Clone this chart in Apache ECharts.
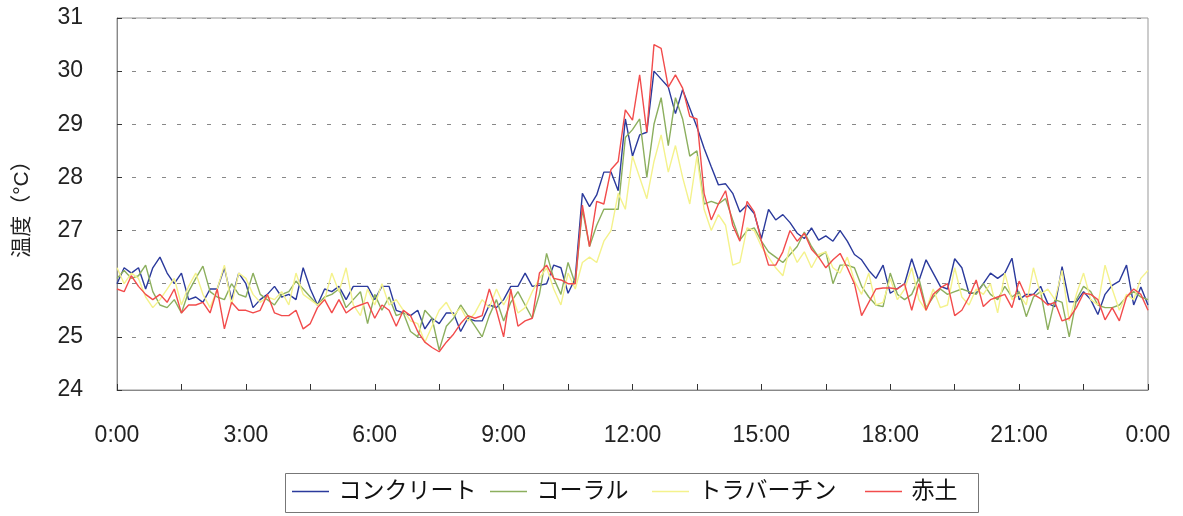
<!DOCTYPE html>
<html>
<head>
<meta charset="utf-8">
<script src="https://cdn.jsdelivr.net/npm/echarts@6/dist/echarts.min.js"></script>
<style>
  html, body { margin: 0; padding: 0; background: #fff; }
  #chart { width: 1183px; height: 516px; }
</style>
</head>
<body>
<div id="chart"></div>
<script>
// 10-minute readings over one day, 0:00 through the following 0:00 (145 samples)
const seriesNames = ['コンクリート', 'コーラル', 'トラバーチン', '赤土'];

const concrete = [
  26.0, 26.3, 26.2, 26.3, 25.9, 26.3, 26.5, 26.2, 26.0, 26.2,
  25.7, 25.75, 25.65, 25.9, 25.9, 26.3, 25.7, 26.2, 26.0, 25.55,
  25.7, 25.8, 25.95, 25.75, 25.8, 25.7, 26.3, 25.9, 25.6, 25.9,
  25.85, 25.95, 25.7, 25.95, 25.95, 25.95, 25.7, 25.95, 25.95, 25.5,
  25.45, 25.4, 25.5, 25.15, 25.35, 25.25, 25.45, 25.45, 25.1, 25.35,
  25.3, 25.3, 25.6, 25.55, 25.7, 25.95, 25.95, 26.2, 25.95, 25.97,
  26.0, 26.35, 26.3, 25.82, 26.1, 27.7, 27.45, 27.67, 28.1, 28.1,
  27.75, 29.1, 28.4, 28.8, 28.85, 30.0, 29.85, 29.7, 29.2, 29.65,
  29.3, 28.95, 28.55, 28.2, 27.86, 27.88, 27.7, 27.35, 27.48, 27.32,
  26.85, 27.4, 27.2, 27.3, 27.15, 26.95, 26.85, 27.05, 26.82, 26.9,
  26.8, 27.0, 26.8, 26.55, 26.45, 26.25, 26.1, 26.35, 25.82, 25.91,
  26.0, 26.47, 26.05, 26.45, 26.2, 25.95, 25.9, 26.47, 26.3, 25.82,
  25.82, 26.0, 26.2, 26.1, 26.2, 26.48, 25.7, 25.8, 25.8, 25.95,
  25.63, 25.57, 26.32, 25.66, 25.66, 25.85, 25.7, 25.42, 25.8, 25.97,
  26.05, 26.35, 25.6, 25.94, 25.6
];

const coral = [
  26.1, 26.25, 26.1, 26.15, 26.35, 25.85, 25.6, 25.55, 25.7, 25.45,
  25.85, 26.1, 26.33, 25.85, 25.75, 25.7, 26.0, 25.8, 25.75, 26.2,
  25.8, 25.7, 25.6, 25.8, 25.85, 26.05, 25.9, 25.75, 25.6, 25.75,
  25.8, 25.9, 25.55, 25.7, 25.85, 25.25, 25.8, 25.5, 25.75, 25.4,
  25.45, 25.1, 25.0, 25.5, 25.35, 24.75, 25.2, 25.35, 25.6, 25.4,
  25.2, 25.0, 25.4, 25.7, 25.3, 25.65, 25.85, 25.6, 25.35, 25.8,
  26.57, 26.1, 25.8, 26.4, 26.0, 27.4, 26.7, 27.1, 27.4, 27.4,
  27.4, 28.75, 28.9, 29.1, 28.0, 29.0, 29.5, 28.6, 29.5, 29.1,
  28.4, 28.5, 27.5, 27.55, 27.5, 27.6, 27.2, 26.82, 27.0, 27.05,
  26.8, 26.6, 26.5, 26.4, 26.55, 26.7, 26.97, 26.7, 26.5, 26.6,
  26.0, 26.35, 26.35, 26.3, 25.95, 25.75, 25.6, 25.57, 26.2, 25.8,
  25.7, 25.8, 26.1, 25.55, 25.75, 25.9, 25.8, 25.85, 25.9, 25.85,
  25.8, 26.0, 25.8, 25.7, 25.95, 25.75, 25.85, 25.38, 25.75, 25.85,
  25.13, 25.7, 25.65, 25.0, 25.7, 25.95, 25.85, 25.6, 25.55, 25.55,
  25.6, 25.75, 25.85, 25.75, 25.7
];

const travertine = [
  26.3, 26.0, 26.2, 26.1, 25.75, 25.55, 25.7, 25.9, 26.1, 25.6,
  25.95, 26.2, 25.8, 25.55, 25.9, 26.35, 25.6, 26.2, 26.1, 25.8,
  25.65, 25.75, 25.7, 25.85, 25.6, 26.2, 25.8, 25.7, 25.6, 25.7,
  26.2, 25.85, 26.3, 25.6, 25.4, 25.9, 25.6, 26.0, 25.6, 25.7,
  25.5, 25.3, 25.25, 24.9, 25.2, 25.5, 25.65, 25.4, 25.55, 25.3,
  25.45, 25.7, 25.55, 25.9, 25.6, 25.85, 25.45, 25.55, 25.85, 26.1,
  26.3, 25.9, 25.6, 26.2, 25.9, 26.4, 26.5, 26.4, 26.8, 27.0,
  27.7, 27.4, 28.4, 28.0, 27.6, 28.3, 28.8, 28.1, 28.6, 28.0,
  27.5, 28.4, 27.4, 27.0, 27.3, 27.1, 26.35, 26.4, 27.05, 27.0,
  26.7, 26.5, 26.3, 26.15, 26.7, 26.4, 26.6, 26.3, 26.55, 26.6,
  26.3, 26.2, 26.5, 26.05, 25.8, 26.2, 25.6, 25.65, 26.1, 25.7,
  25.9, 26.3, 25.7, 25.5, 25.9, 25.55, 25.6, 26.3, 25.75, 25.6,
  25.9, 25.8, 26.0, 25.45, 26.2, 25.7, 25.8, 25.6, 26.3, 25.8,
  25.9, 25.7, 26.25, 25.3, 25.8, 26.2, 25.7, 25.6, 26.35, 25.9,
  25.5, 25.8, 25.7, 26.1, 26.25
];

const redSoil = [
  25.9, 25.85, 26.15, 25.95, 25.8, 25.7, 25.8, 25.65, 25.9, 25.45,
  25.6, 25.6, 25.65, 25.45, 25.9, 25.15, 25.65, 25.5, 25.5, 25.45,
  25.5, 25.8, 25.45, 25.4, 25.4, 25.5, 25.15, 25.25, 25.55, 25.7,
  25.45, 25.7, 25.45, 25.55, 25.6, 25.65, 25.35, 25.6, 25.5, 25.2,
  25.5, 25.4, 25.1, 24.9, 24.8, 24.72, 24.9, 25.05, 25.25, 25.4,
  25.35, 25.4, 25.9, 25.5, 25.0, 25.9, 25.2, 25.3, 25.35, 26.2,
  26.35, 26.1, 26.07, 26.0, 26.0, 27.48, 26.7, 27.55, 27.5, 28.15,
  28.3, 29.27, 29.08, 29.93, 28.85, 30.5, 30.43, 29.7, 29.93, 29.68,
  29.15, 29.1, 27.7, 27.2, 27.5, 27.75, 27.1, 26.8, 27.55, 27.35,
  26.8, 26.35, 26.35, 26.6, 27.0, 26.8, 26.95, 26.65, 26.5, 26.3,
  26.45, 26.57, 26.3, 26.0, 25.4, 25.65, 25.9, 25.92, 25.92, 25.9,
  26.0, 25.5, 26.0, 25.5, 25.8, 25.92, 26.0, 25.4, 25.5, 25.75,
  26.07, 25.57, 25.7, 25.75, 25.8, 25.55, 26.05, 25.75, 25.8, 25.72,
  25.6, 25.65, 25.3, 25.35, 25.55, 25.82, 25.8, 25.7, 25.32, 25.55,
  25.3, 25.75, 25.9, 25.8, 25.5
];

// time-of-day categories, one per 10 minutes
const categories = [];
for (let m = 0; m <= 24 * 60; m += 10) {
  const h = Math.floor(m / 60) % 24;
  const mm = m % 60;
  categories.push(h + ':' + (mm < 10 ? '0' : '') + mm);
}

const yMin = 24, yMax = 31, yStep = 1;
const colors = ['#2b3a9c', '#8caf5e', '#f4f28c', '#f24c4c'];
const FONT = "'Liberation Sans', 'Noto Sans CJK JP', sans-serif";

// legend layout: one entry per column inside a framed box
const legendBox = { x: 285, y: 473, w: 693, h: 39 };
const legendLefts = [292, 490, 652, 865];

const chart = echarts.init(document.getElementById('chart'), null, { renderer: 'canvas' });

chart.setOption({
  animation: false,
  backgroundColor: '#ffffff',
  color: colors,
  textStyle: { fontFamily: FONT },
  grid: {
    left: 117, right: 35, top: 18, bottom: 126,
    show: true, borderColor: '#999', borderWidth: 1
  },
  graphic: [{
    type: 'rect',
    shape: { x: legendBox.x + 0.5, y: legendBox.y + 0.5, width: legendBox.w, height: legendBox.h },
    style: { fill: 'none', stroke: '#777', lineWidth: 1 },
    silent: true
  }],
  legend: seriesNames.map((n, i) => ({
    data: [n],
    formatter: name => '\u2009' + name,
    left: legendLefts[i],
    top: 480,
    padding: 0,
    orient: 'horizontal',
    icon: 'rect',
    itemWidth: 37, itemHeight: 1.5,
    textStyle: { fontSize: 23, color: '#111', fontFamily: FONT }
  })),
  xAxis: {
    type: 'category',
    data: categories,
    boundaryGap: false,
    axisLine: { show: true, lineStyle: { color: '#888', width: 1 } },
    axisTick: { show: true, inside: true, interval: 8, length: 6, lineStyle: { color: '#333' } },
    axisLabel: { interval: 17, margin: 34, fontSize: 23, color: '#222', fontFamily: FONT },
    splitLine: { show: false }
  },
  yAxis: {
    type: 'value',
    min: yMin, max: yMax, interval: yStep,
    name: '温度（°C）',
    nameLocation: 'middle',
    nameRotate: 90,
    nameGap: 84,
    nameTextStyle: { fontSize: 21, color: '#222', fontFamily: FONT },
    axisLine: { show: true, lineStyle: { color: '#888', width: 1 } },
    axisTick: { show: true, inside: true, length: 5, lineStyle: { color: '#333' } },
    axisLabel: { margin: 34, fontSize: 23, color: '#222', fontFamily: FONT },
    splitLine: { show: true, lineStyle: { color: '#888', width: 1, type: [4, 11] } }
  },
  series: [concrete, coral, travertine, redSoil].map((d, i) => ({
    name: seriesNames[i],
    type: 'line',
    data: d,
    showSymbol: false,
    symbol: 'none',
    lineStyle: { width: 1.4, color: colors[i] },
    itemStyle: { color: colors[i] }
  }))
});
</script>
</body>
</html>
